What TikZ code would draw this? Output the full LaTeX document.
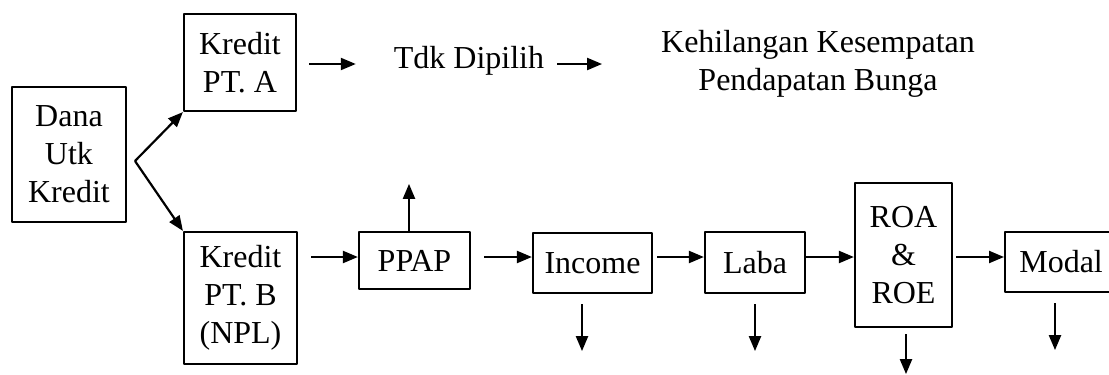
\documentclass[tikz,border=0pt]{standalone}
\usepackage{fontspec}
\setmainfont{Liberation Serif}
\usetikzlibrary{arrows.meta}
\begin{document}
\begin{tikzpicture}[x=0.5pt,y=-0.5pt,line join=round,>={Triangle[length=7.5pt,width=6pt]},line width=1.1pt]
	\tikzset{every node/.style={font=\fontsize{16}{19}\selectfont,align=center,inner sep=0pt}}
	\tikzset{box/.style={draw,line width=1.1pt}}
	\useasboundingbox (0,0) rectangle (1109,375);
	% boxes
	\node[box,minimum width=57pt,minimum height=67.5pt] (dana) at (69,154.5) {Dana\\Utk\\Kredit};
	\node[box,minimum width=56pt,minimum height=48.5pt] (ptA) at (240,62.5) {Kredit\\PT. A};
	\node[box,minimum width=56.5pt,minimum height=66pt] (ptB) at (240.5,298) {Kredit\\PT. B\\(NPL)};
	\node[box,minimum width=55.5pt,minimum height=28.5pt] (ppap) at (414.5,260.5) {PPAP};
	\node[box,minimum width=59.5pt,minimum height=30pt] (income) at (592.5,263) {Income};
	\node[box,minimum width=50pt,minimum height=30.5pt] (laba) at (755,262.5) {Laba};
	\node[box,minimum width=48.5pt,minimum height=72pt] (roa) at (903.5,255) {ROA\\\&\\ROE};
	\node[box,minimum width=64pt,minimum height=30pt,anchor=west] (modal) at (1004,262) {Modal\hspace*{8pt}};
	% texts
	\node (tdk) at (469,61) {Tdk Dipilih};
	\node (hilang) at (818,64) {Kehilangan Kesempatan\\Pendapatan Bunga};
	\coordinate (split) at (135,161);
	\coordinate (toprow) at (0,64);
	\coordinate (row) at (0,257);
	% arrows
	\draw[->] (split) -- (ptA.south west);
	\draw[->] (split) -- (ptB.north west);
	\draw[->,shorten <=6pt,shorten >=18.5pt] (ptA.east|-toprow) -- (tdk.west|-toprow);
	\draw[->,shorten <=6pt,shorten >=29pt] (tdk.east|-toprow) -- (hilang.west|-toprow);
	\draw[->,shorten <=6.5pt] (ptB.east|-row) -- (ppap.west|-row);
	\draw[->,shorten <=6.5pt] (ppap.east|-row) -- (income.west|-row);
	\draw[->,shorten <=2pt] (income.east|-row) -- (laba.west|-row);
	\draw[->] (laba.east|-row) -- (roa.west|-row);
	\draw[->,shorten <=1.5pt] (roa.east|-row) -- (modal.west|-row);
	\draw[->] ([xshift=-2.75pt]ppap.north) -- ++(0,-47);
	\foreach \n/\dx in {income/-5.25,laba/0}
	\draw[->] ([xshift=\dx pt,yshift=-5pt]\n.south) -- ++(0,47);
	\draw[->] ([xshift=25.5pt,yshift=-5pt]modal.south west) -- ++(0,47);
	\draw[->] ([xshift=1.25pt,yshift=-3pt]roa.south) -- ++(0,40);
\end{tikzpicture}
\end{document}
